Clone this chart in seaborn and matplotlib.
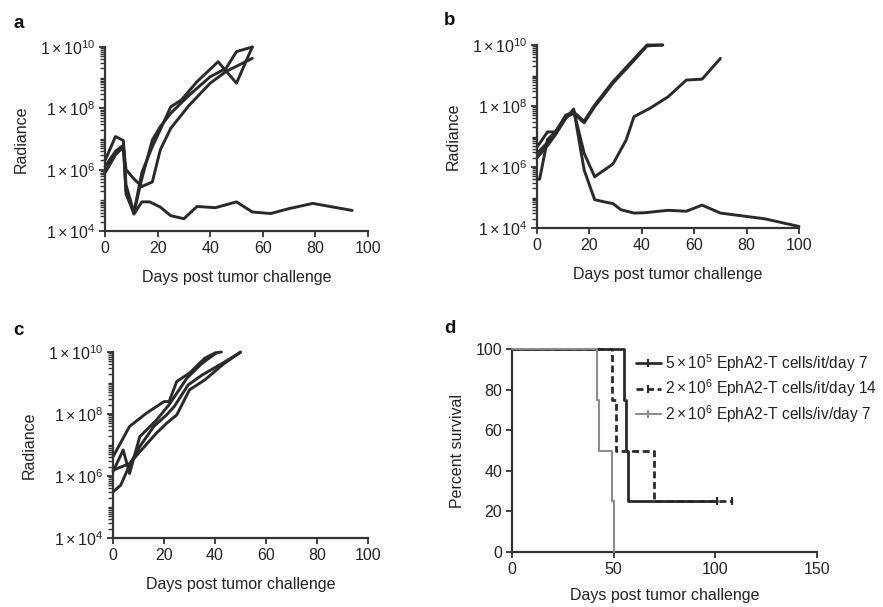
import numpy as np
import pandas as pd
import seaborn as sns
import matplotlib
matplotlib.use('Agg')
import matplotlib.pyplot as plt
from matplotlib.lines import Line2D
from matplotlib.ticker import FixedLocator, NullFormatter

# panel a: days and log10 radiance, one list per mouse
a_days = [
    [0, 4, 7, 8, 11, 14, 17, 21, 25, 30, 35, 42, 50, 56, 63, 70, 79, 94],
    [0, 4, 7, 8, 11, 14, 18, 21, 25, 29, 35, 43, 50, 56],
    [0, 4, 7, 8, 11, 14, 18, 21, 25, 32, 40, 46, 50, 56],
    [0, 4, 7, 8, 11, 14, 18, 21, 25, 32, 40, 46, 56],
]
a_log = [
    [5.9, 6.5, 6.75, 5.3, 4.55, 4.95, 4.95, 4.78, 4.5, 4.4, 4.8, 4.76, 4.95, 4.62, 4.57, 4.73, 4.9, 4.67],
    [6.3, 7.08, 6.95, 5.5, 4.6, 5.9, 6.75, 7.3, 8.05, 8.27, 8.87, 9.52, 8.82, 10.0],
    [6.1, 6.6, 6.8, 5.2, 4.6, 5.7, 6.97, 7.4, 7.84, 8.43, 9.03, 9.3, 9.85, 10.0],
    [5.9, 6.5, 6.75, 6.0, 5.7, 5.45, 5.6, 6.64, 7.35, 8.1, 8.82, 9.2, 9.63],
]

# panel b
b_days = [
    [0, 4, 7, 11, 14, 18, 22, 25, 29, 36, 42, 48],
    [0, 4, 7, 11, 14, 18, 22, 25, 29, 36, 42, 48],
    [0, 1, 4, 7, 11, 14, 18, 22, 29, 34, 37, 43, 50, 57, 63, 70],
    [0, 4, 7, 11, 14, 18, 22, 26, 29, 32, 37, 41, 50, 57, 63, 70, 87, 100],
]
b_log = [
    [6.65, 7.15, 7.15, 7.7, 7.8, 7.5, 8.03, 8.36, 8.8, 9.45, 10.0, 10.0],
    [6.45, 6.8, 7.1, 7.65, 7.75, 7.45, 7.98, 8.3, 8.75, 9.4, 9.97, 10.0],
    [5.6, 5.6, 6.9, 7.15, 7.6, 7.85, 6.45, 5.68, 6.1, 6.88, 7.65, 7.92, 8.3, 8.85, 8.88, 9.56],
    [6.3, 6.7, 7.05, 7.6, 7.9, 5.9, 4.93, 4.85, 4.8, 4.6, 4.49, 4.5, 4.58, 4.55, 4.75, 4.49, 4.3, 4.05],
]

# panel c
c_days = [
    [0, 6.5, 13, 20, 22, 25, 30, 36, 40, 42.5],
    [0, 4, 6.5, 10.5, 17, 22, 29, 35, 40.5],
    [0, 3, 6.5, 10.5, 16, 21, 24, 29.5, 35, 43, 50],
    [0, 6.5, 10.5, 17, 21, 25, 30, 36, 43, 50],
]
c_log = [
    [6.62, 7.6, 8.02, 8.4, 8.4, 9.05, 9.32, 9.8, 9.97, 10.0],
    [6.14, 6.84, 6.08, 7.27, 7.8, 8.3, 9.16, 9.64, 9.97],
    [5.49, 5.7, 6.35, 6.95, 7.6, 7.97, 8.24, 8.94, 9.26, 9.64, 9.99],
    [6.19, 6.4, 6.78, 7.38, 7.7, 7.97, 8.78, 9.1, 9.59, 10.0],
]

# panel d: Kaplan-Meier steps
d_labels = [
    r'$5\times10^{5}$ EphA2-T cells/it/day 7',
    r'$2\times10^{6}$ EphA2-T cells/it/day 14',
    r'$2\times10^{6}$ EphA2-T cells/iv/day 7',
]
d_time = [
    [0, 55, 56, 57, 101],
    [0, 49, 51, 70, 108],
    [0, 42, 43, 49, 50],
]
d_surv = [
    [100, 75, 50, 25, 25],
    [100, 75, 50, 25, 25],
    [100, 75, 50, 25, 0],
]
d_censored = [True, True, False]

INK = '#2a2a2a'
GRAY = '#8c8c8c'
FS = 11.5

sns.set_style('ticks')
plt.rcParams['font.family'] = ['Liberation Sans', 'DejaVu Sans']
plt.rcParams['mathtext.fontset'] = 'custom'
plt.rcParams['mathtext.rm'] = 'Liberation Sans'
plt.rcParams['mathtext.it'] = 'Liberation Sans'
plt.rcParams['mathtext.default'] = 'regular'
plt.rcParams['text.color'] = '#222222'
plt.rcParams['axes.labelcolor'] = '#222222'
plt.rcParams['xtick.color'] = '#333333'
plt.rcParams['ytick.color'] = '#333333'
plt.rcParams['xtick.labelcolor'] = '#222222'
plt.rcParams['ytick.labelcolor'] = '#222222'


def to_frame(days, logs):
    parts = []
    for i, (d, v) in enumerate(zip(days, logs)):
        parts.append(pd.DataFrame({'day': d, 'radiance': np.power(10.0, v), 'mouse': i}))
    return pd.concat(parts, ignore_index=True)


def style_axis(ax):
    sns.despine(ax=ax)
    for s in ['left', 'bottom']:
        ax.spines[s].set_linewidth(1.6)
        ax.spines[s].set_color('#333333')
    ax.tick_params(which='major', length=4, width=1.3, labelsize=FS, pad=3)
    ax.tick_params(which='minor', length=3.5, width=1.0, left=True)


def radiance_panel(ax, days, logs):
    df = to_frame(days, logs)
    sns.lineplot(data=df, x='day', y='radiance', units='mouse', estimator=None,
                 sort=False, color=INK, lw=2.1, legend=False, ax=ax, clip_on=False)
    ax.set_yscale('log')
    ax.set_ylim(1e4, 1e10)
    ax.set_xlim(0, 100)
    ax.set_xticks([0, 20, 40, 60, 80, 100])
    ax.yaxis.set_major_locator(FixedLocator([1e4, 1e6, 1e8, 1e10]))
    ax.set_yticklabels([r'$1\times10^{4}$', r'$1\times10^{6}$',
                        r'$1\times10^{8}$', r'$1\times10^{10}$'])
    minor = [m * 10.0 ** e for e in range(4, 10) for m in range(2, 10)] + [1e5, 1e7, 1e9]
    ax.yaxis.set_minor_locator(FixedLocator(minor))
    ax.yaxis.set_minor_formatter(NullFormatter())
    ax.set_xlabel('Days post tumor challenge', fontsize=FS, labelpad=10)
    ax.set_ylabel('Radiance', fontsize=FS, labelpad=8)
    style_axis(ax)


fig = plt.figure(figsize=(8.83, 6.07), dpi=100)
W, H = 883, 607


def add_axes(l, t, r, b):
    return fig.add_axes([l / W, 1 - b / H, (r - l) / W, (b - t) / H])


ax_a = add_axes(105, 47, 368, 231)
ax_b = add_axes(537, 45, 799, 228)
ax_c = add_axes(113, 352, 368, 538)
ax_d = add_axes(512, 349, 817, 552)

radiance_panel(ax_a, a_days, a_log)
radiance_panel(ax_b, b_days, b_log)
radiance_panel(ax_c, c_days, c_log)

# survival panel
colors = [INK, INK, GRAY]
styles = ['-', '--', '-']
widths = [2.0, 2.0, 1.5]
handles = []
for k in range(3):
    z = 3 if k == 2 else 2
    sns.lineplot(x=d_time[k], y=d_surv[k], drawstyle='steps-post', sort=False,
                 color=colors[k], lw=widths[k], ax=ax_d, clip_on=False, zorder=z)
    if styles[k] == '--':
        ax_d.lines[-1].set_dashes((2.5, 1.3))
    if d_censored[k]:
        sns.scatterplot(x=[d_time[k][-1]], y=[d_surv[k][-1]], marker='|', s=40,
                        color=colors[k], linewidth=1.5, ax=ax_d, clip_on=False, zorder=z)
    h = Line2D([], [], color=colors[k], lw=widths[k], ls=styles[k], marker='|',
               markersize=6, markeredgewidth=1.5)
    if styles[k] == '--':
        h.set_dashes((2.5, 1.3))
    handles.append(h)

ax_d.set_xlim(0, 150)
ax_d.set_ylim(0, 100)
ax_d.set_xticks([0, 50, 100, 150])
ax_d.set_yticks([0, 20, 40, 60, 80, 100])
ax_d.set_xlabel('Days post tumor challenge', fontsize=FS, labelpad=8)
ax_d.set_ylabel('Percent survival', fontsize=FS, labelpad=8)
style_axis(ax_d)
ax_d.legend(handles, d_labels, loc='upper left', bbox_to_anchor=(0.405, 0.985),
            frameon=False, fontsize=11.2, handlelength=1.65, handletextpad=0.25,
            labelspacing=0.25, numpoints=1, borderaxespad=0, borderpad=0)

for letter, x, y in [('a', 13, 28), ('b', 444, 25), ('c', 13, 335), ('d', 444, 333)]:
    fig.text(x / W, 1 - y / H, letter, fontsize=13.5, fontweight='bold', color='#111111')

fig.savefig('out.png', dpi=100)
